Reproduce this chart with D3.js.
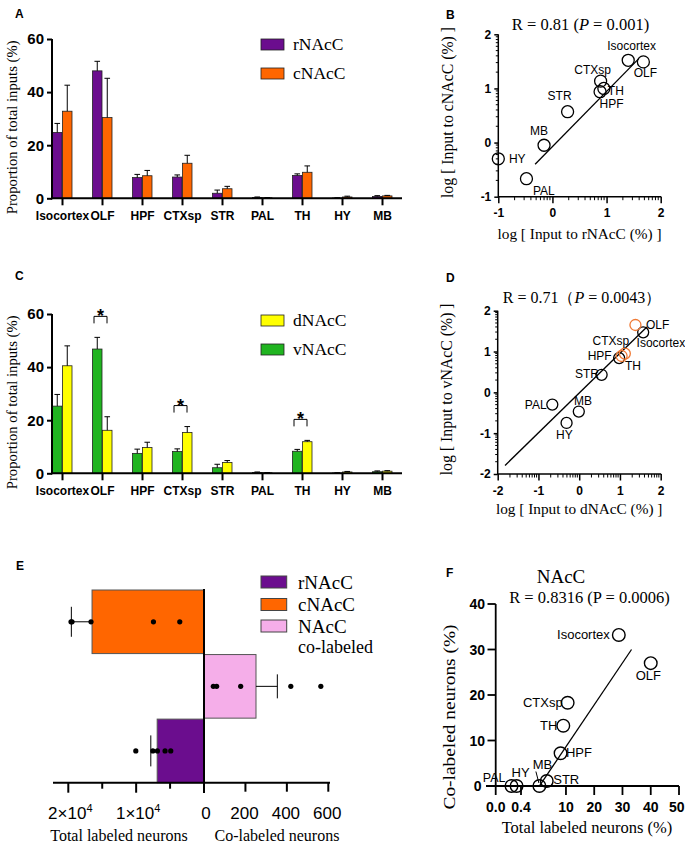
<!DOCTYPE html>
<html><head><meta charset="utf-8">
<script src="https://cdn.jsdelivr.net/npm/d3@7"></script>
<style>body{margin:0;background:#fff}svg{display:block}</style>
</head><body>
<script>
// ================= DATA =================
const regions = ["Isocortex","OLF","HPF","CTXsp","STR","PAL","TH","HY","MB"];
const barTicks = [0,20,40,60];

// Panel A (proportion of total inputs, %)
const rNAcC = [24.8, 48.0, 7.8, 8.0, 1.9, 0.3, 8.6, 0.1, 0.7];
const rNAcC_err = [3.4, 3.6, 1.2, 0.8, 1.2, 0.2, 0.6, 0.1, 0.3];
const cNAcC = [32.8, 30.4, 8.5, 13.2, 3.6, 0.2, 9.8, 0.5, 0.9];
const cNAcC_err = [9.8, 14.8, 2.0, 3.0, 0.9, 0.1, 2.4, 0.3, 0.2];

// Panel C
const vNAcC = [25.3, 46.8, 7.5, 8.2, 2.1, 0.3, 8.3, 0.1, 0.6];
const vNAcC_err = [4.4, 4.4, 1.6, 1.0, 1.3, 0.2, 0.7, 0.1, 0.3];
const dNAcC = [40.5, 16.2, 9.7, 15.4, 4.1, 0.2, 11.9, 0.5, 0.8];
const dNAcC_err = [7.5, 5.1, 2.0, 2.2, 0.7, 0.1, 0.5, 0.2, 0.2];
const sigRegions = ["OLF","CTXsp","TH"];

// Panel B (log10 values)
const logR = [1.40, 1.68, 0.88, 0.89, 0.28, -0.48, 0.95, -1.00, -0.155];
const logC = [1.52, 1.49, 0.94, 1.135, 0.57, -0.667, 1.00, -0.30, -0.05];
const fitB = [[-0.32,-0.40],[1.60,1.555]];
const logTicksB = [-1,0,1,2];

// Panel D (log10 values)
const logD = [1.57, 1.38, 0.98, 1.12, 0.55, -0.66, 1.04, -0.31, -0.01];
const logV = [1.47, 1.65, 0.84, 0.95, 0.43, -0.30, 0.89, -0.75, -0.47];
const sigD = [false, true, false, true, false, false, true, false, false];
const fitD = [[-1.82,-1.79],[1.66,1.60]];
const logTicksD = [-2,-1,0,1,2];

// Panel E
const eGroups = ["cNAcC","NAcC co-labeled","rNAcC"];
const totalMean = {cNAcC:16500, rNAcC:6900};
const totalErr = {cNAcC:3050, rNAcC:940};
const cNAcC_cells = [19600, 19450, 16650, 7450, 3570];
const rNAcC_cells = [10050, 7540, 6870, 5740, 4900];
const coMean = 251, coErr = 103;
const co_cells = [45, 61, 177, 419, 564];
const eTotalTicks = [20000, 10000, 0];
const eTotalMinor = [15000, 5000];
const eCoTicks = [200, 400, 600];

// Panel F (% of total)
const totalPct = [28.7, 40.0, 8.1, 10.6, 3.2, 0.25, 9.06, 0.33, 0.6];
const coPct = [33.2, 27.0, 7.2, 18.3, 1.1, 0, 13.25, 0, 0];
const fitF = [[0.46,-0.15],[33.2,30.0]];
const fYTicks = [0,10,20,30,40];
const fXTicks1 = [0, 0.4];
const fXTicks2 = [10,20,30,40,50];

// ================= STYLE / LAYOUT =================
const SERIF = "'Liberation Serif','Times New Roman',Times,serif";
const SANS = "'Liberation Sans',Arial,Helvetica,sans-serif";
const PURPLE="#6b0d8e", ORANGE="#ff6600", YELLOW="#ffff00", GREEN="#20b420", PINK="#f5aee9", SIGC="#f07a35";

const W=685,H=845;
const svg=d3.select("body").append("svg").attr("width",W).attr("height",H);
svg.append("rect").attr("width",W).attr("height",H).attr("fill","#fff");

function txt(g,x,y,s,o={}){
  const t=g.append("text").attr("x",x).attr("y",y).text(s)
    .attr("font-family",o.family||SANS).attr("font-size",o.size||12)
    .attr("font-weight",o.weight||"normal").attr("text-anchor",o.anchor||"start")
    .attr("fill",o.fill||"#000");
  if(o.rotate) t.attr("transform",`rotate(-90,${x},${y})`);
  if(o.len) t.attr("textLength",o.len).attr("lengthAdjust","spacingAndGlyphs");
  return t;
}
function line(g,x1,y1,x2,y2,w=1,c="#000"){
  return g.append("line").attr("x1",x1).attr("y1",y1).attr("x2",x2).attr("y2",y2).attr("stroke",c).attr("stroke-width",w);
}
function styleAxis(a,size,weight,w){
  a.select(".domain").remove();
  a.selectAll(".tick line").attr("stroke","#000").attr("stroke-width",w);
  a.selectAll(".tick text").attr("font-family",SANS).attr("font-size",size).attr("font-weight",weight).attr("fill","#000");
}

// panel letters
[["A",15,18],["B",446,19],["C",15,280],["D",446,282],["E",16,570],["F",446,577]]
  .forEach(([s,x,y])=>txt(svg,x,y,s,{weight:"bold",size:12}));

// ================= BAR PANELS (A, C) =================
function barPanel(o){
  const g=svg.append("g");
  const x=d3.scalePoint().domain(regions).range([62,382]);
  const y=d3.scaleLinear().domain([0,60]).range([o.zeroY,o.zeroY-159.3]);
  const bw=9.5;
  o.series.forEach((s,si)=>{
    const off = si===0 ? -bw : 0.5;
    g.selectAll(null).data(regions).enter().append("rect")
      .attr("x",d=>x(d)+off).attr("width",bw)
      .attr("y",(d,i)=>y(s.vals[i])).attr("height",(d,i)=>y(0)-y(s.vals[i]))
      .attr("fill",s.color).attr("stroke","#222").attr("stroke-width",0.8);
    regions.forEach((d,i)=>{
      const cx=x(d)+off+bw/2, t=y(s.vals[i]), e=y(s.vals[i]+s.errs[i]);
      line(g,cx,t,cx,e,1);
      line(g,cx-2.8,e,cx+2.8,e,1);
    });
  });
  // significance brackets
  (o.sig||[]).forEach(r=>{
    const i=regions.indexOf(r);
    const top=Math.min(...o.series.map(s=>y(s.vals[i]+s.errs[i])));
    const by=top-21, xc=x(r);
    g.append("path").attr("d",`M${xc-8},${by+7}V${by}H${xc+5}V${by+7}`)
      .attr("fill","none").attr("stroke","#000").attr("stroke-width",1);
    txt(g,xc-1.5,by+6,"*",{weight:"bold",size:18,anchor:"middle"});
  });
  // y axis
  const ya=g.append("g").attr("transform","translate(52,0)")
    .call(d3.axisLeft(y).tickValues(barTicks).tickSize(5).tickSizeOuter(0).tickPadding(3));
  styleAxis(ya,15,"bold",2);
  line(g,52,o.zeroY+1,52,y(60),2);
  // x axis
  const xa=g.append("g").attr("transform",`translate(0,${o.zeroY})`)
    .call(d3.axisBottom(x).tickSize(7).tickSizeOuter(0).tickPadding(6));
  styleAxis(xa,12,"bold",2);
  line(g,51,o.zeroY,402,o.zeroY,2);
  // y title
  txt(g,17,o.zeroY-71,"Proportion of total inputs (%)",{family:SERIF,size:14.7,anchor:"middle",rotate:true});
  // legend
  o.legend.forEach((l,k)=>{
    g.append("rect").attr("x",261).attr("y",o.legY+k*29).attr("width",23).attr("height",11)
      .attr("fill",l.color).attr("stroke","#222").attr("stroke-width",0.8);
    txt(g,293,o.legY+11+k*29,l.name,{family:SERIF,size:17.5});
  });
}
barPanel({zeroY:198.3,legY:39,
  series:[{vals:rNAcC,errs:rNAcC_err,color:PURPLE},{vals:cNAcC,errs:cNAcC_err,color:ORANGE}],
  legend:[{name:"rNAcC",color:PURPLE},{name:"cNAcC",color:ORANGE}]});
barPanel({zeroY:473.3,legY:315,sig:sigRegions,
  series:[{vals:vNAcC,errs:vNAcC_err,color:GREEN},{vals:dNAcC,errs:dNAcC_err,color:YELLOW}],
  legend:[{name:"dNAcC",color:YELLOW},{name:"vNAcC",color:GREEN}]});

// ================= LOG SCATTER PANELS (B, D) =================
function logPanel(o){
  const g=svg.append("g");
  const x=d3.scaleLinear().domain(o.xd).range(o.xr);
  const y=d3.scaleLinear().domain(o.yd).range(o.yr);
  const X0=o.xr[0], Y0=o.yr[0];
  // fit line
  line(g,x(o.fit[0][0]),y(o.fit[0][1]),x(o.fit[1][0]),y(o.fit[1][1]),1.3);
  // points
  g.selectAll(null).data(o.xs).enter().append("circle")
    .attr("cx",d=>x(d)).attr("cy",(d,i)=>y(o.ys[i])).attr("r",o.r)
    .attr("fill","none").attr("stroke",(d,i)=>o.sig&&o.sig[i]?SIGC:"#000").attr("stroke-width",1.3);
  // labels
  regions.forEach((r,i)=>{
    const L=o.labels[r];
    txt(g,x(o.xs[i])+L[0],y(o.ys[i])+L[1],r,{size:12,anchor:L[2]});
  });
  // axes
  const fmt=d=>String(d);
  const xa=g.append("g").attr("transform",`translate(0,${Y0})`)
    .call(d3.axisBottom(x).tickValues(o.ticks).tickSize(6.5).tickSizeOuter(0).tickPadding(5.5).tickFormat(fmt));
  styleAxis(xa,12,"bold",1.5);
  const ya=g.append("g").attr("transform",`translate(${X0},0)`)
    .call(d3.axisLeft(y).tickValues(o.ticks).tickSize(4).tickSizeOuter(0).tickPadding(3).tickFormat(fmt));
  styleAxis(ya,12,"bold",1.5);
  const minor=[];
  for(let n=o.ticks[0];n<o.ticks[o.ticks.length-1];n++) for(let k=2;k<=9;k++) minor.push(n+Math.log10(k));
  minor.forEach(v=>{ line(g,x(v),Y0,x(v),Y0+3.5,1); line(g,X0,y(v),X0-2.5,y(v),1); });
  line(g,X0,Y0,o.xr[1]+0.5,Y0,1.5);
  line(g,X0,Y0+0.7,X0,o.yr[1],1.5);
  // titles
  const tt=txt(g,o.titleX,o.titleY,"",{family:SERIF,size:o.titleSize,anchor:"middle"});
  o.title.forEach(p=>tt.append("tspan").text(p[0]).attr("font-style",p[1]?"italic":"normal"));
  txt(g,(o.xr[0]+o.xr[1])/2,o.xtY,o.xt,{family:SERIF,size:15.3,anchor:"middle"});
  txt(g,o.ytX,(o.yr[0]+o.yr[1])/2-3,o.yt,{family:SERIF,size:15.8,anchor:"middle",rotate:true});
}
logPanel({xd:[-1,2],xr:[498.3,660.7],yd:[-1,2],yr:[196.7,34.3],ticks:logTicksB,
  xs:logR,ys:logC,fit:fitB,r:6,
  labels:{Isocortex:[3.4,-10,"middle"],OLF:[2,15,"middle"],CTXsp:[-8,-7,"middle"],TH:[4,6.5,"start"],
    HPF:[-0.5,16,"start"],STR:[-8,-11.5,"middle"],MB:[-5,-10,"middle"],HY:[10.6,4.2,"start"],PAL:[6.5,16,"start"]},
  title:[["R = 0.81 (",0],["P",1],[" = 0.001)",0]],titleX:580.5,titleY:30,titleSize:16.5,
  xt:"log [ Input to rNAcC (%) ]",xtY:239,yt:"log [ Input to cNAcC (%) ]",ytX:453});
logPanel({xd:[-2,2],xr:[497.7,660.7],yd:[-2,2],yr:[474,310.7],ticks:logTicksD,
  xs:logD,ys:logV,sig:sigD,fit:fitD,r:5.5,
  labels:{Isocortex:[-6.6,15,"start"],OLF:[10.5,3.6,"start"],HPF:[-7.5,2,"end"],CTXsp:[4.4,-9,"end"],
    TH:[3.3,14.3,"start"],STR:[-2.7,3.1,"end"],PAL:[-5.7,4.1,"end"],MB:[-4.9,-6.9,"start"],HY:[-2.2,15.7,"middle"]},
  title:[["R = 0.71（",0],["P",1],[" = 0.0043）",0]],titleX:582,titleY:303,titleSize:16,
  xt:"log [ Input to dNAcC (%) ]",xtY:514,yt:"log [ Input to vNAcC (%) ]",ytX:452});

// ================= PANEL E =================
(function(){
  const g=svg.append("g");
  const xL=d3.scaleLinear().domain([0,20000]).range([204,68.3]);
  const xR=d3.scaleLinear().domain([0,600]).range([204,328.3]);
  const yb=d3.scaleBand().domain(eGroups).range([590,782.7]).paddingInner(0.015);
  const cy=k=>yb(k)+yb.bandwidth()/2;
  // bars
  g.append("rect").attr("x",xL(totalMean.cNAcC)).attr("y",yb("cNAcC")).attr("width",204-xL(totalMean.cNAcC))
    .attr("height",yb.bandwidth()).attr("fill",ORANGE).attr("stroke","#555").attr("stroke-width",1);
  g.append("rect").attr("x",204).attr("y",yb("NAcC co-labeled")).attr("width",xR(coMean)-204)
    .attr("height",yb.bandwidth()).attr("fill",PINK).attr("stroke","#555").attr("stroke-width",1);
  g.append("rect").attr("x",xL(totalMean.rNAcC)).attr("y",yb("rNAcC")).attr("width",204-xL(totalMean.rNAcC))
    .attr("height",yb.bandwidth()).attr("fill",PURPLE).attr("stroke","#555").attr("stroke-width",1);
  // error bars
  const eb=(x1,x2,yc,h)=>{line(g,x1,yc,x2,yc,1);line(g,x2,yc-h,x2,yc+h,1);};
  eb(xL(totalMean.cNAcC),xL(totalMean.cNAcC+totalErr.cNAcC),cy("cNAcC"),15);
  eb(xR(coMean),xR(coMean+coErr),cy("NAcC co-labeled"),12);
  eb(xL(totalMean.rNAcC),xL(totalMean.rNAcC+totalErr.rNAcC),cy("rNAcC"),15.5);
  // dots
  const dots=(arr,sc,k)=>g.selectAll(null).data(arr).enter().append("circle")
    .attr("cx",d=>sc(d)).attr("cy",cy(k)).attr("r",2.6).attr("fill","#000");
  dots(cNAcC_cells,xL,"cNAcC"); dots(co_cells,xR,"NAcC co-labeled"); dots(rNAcC_cells,xL,"rNAcC");
  // zero line
  line(g,204,589,204,793,2);
  // bottom axis
  const AY=782.7;
  line(g,53,AY,330,AY,2);
  eTotalTicks.forEach(v=>line(g,xL(v),AY,xL(v),AY+10,2));
  eTotalMinor.forEach(v=>line(g,xL(v),AY,xL(v),AY+6,2));
  eCoTicks.forEach(v=>line(g,xR(v),AY,xR(v),AY+9,2));
  eTotalTicks.filter(v=>v>0).forEach(v=>{
    const t=txt(g,xL(v)+2,819,"",{size:17,anchor:"middle"});
    t.append("tspan").text(`${v/10000}×10`);
    t.append("tspan").text("4").attr("font-size",11).attr("dy",-7);
  });
  txt(g,206,819,"0",{size:17,anchor:"middle"});
  eCoTicks.forEach(v=>txt(g,xR(v)-1,819,String(v),{size:17,anchor:"middle"}));
  txt(g,119,841,"Total labeled neurons",{family:SERIF,size:16,anchor:"middle"});
  txt(g,277,841,"Co-labeled neurons",{family:SERIF,size:16,anchor:"middle"});
  // legend
  const leg=[["rNAcC",PURPLE,576],["cNAcC",ORANGE,598.5],["NAcC",PINK,620]];
  leg.forEach(([n,c,yy])=>{
    g.append("rect").attr("x",261).attr("y",yy).attr("width",25.7).attr("height",12)
      .attr("fill",c).attr("stroke","#444").attr("stroke-width",1);
    txt(g,298,yy+12.5,n,{family:SERIF,size:19});
  });
  txt(g,298,652.5,"co-labeled",{family:SERIF,size:18});
})();

// ================= PANEL F =================
(function(){
  const g=svg.append("g");
  const fx1=d3.scaleLinear().domain([0,0.4]).range([495.7,521]);
  const fx2=d3.scaleLinear().domain([0,50]).range([537.7,679]);
  const fx=v=>v<0.5?fx1(v):fx2(v);
  const fy=d3.scaleLinear().domain([0,40]).range([786,604]);
  // fit
  line(g,fx2(fitF[0][0]),fy(fitF[0][1]),fx2(fitF[1][0]),fy(fitF[1][1]),1.3);
  // axes
  line(g,486,786,679,786,1.8);
  line(g,495.7,787,495.7,604,1.8);
  fYTicks.filter(v=>v>0).forEach(v=>line(g,487.5,fy(v),495.7,fy(v),1.8));
  fYTicks.forEach(v=>txt(g,v===0?481.5:485,fy(v)+5,String(v),{size:14,weight:"bold",anchor:"end"}));
  fXTicks1.forEach(v=>{line(g,fx1(v),786,fx1(v),795,1.8); txt(g,fx1(v),811.7,v.toFixed(1),{size:14,weight:"bold",anchor:"middle"});});
  fXTicks2.forEach(v=>{line(g,fx2(v),786,fx2(v),795,1.8);
    txt(g,v===50?684.5:fx2(v),811.7,String(v),{size:14,weight:"bold",anchor:v===50?"end":"middle"});});
  // points
  g.selectAll(null).data(totalPct).enter().append("circle")
    .attr("cx",d=>fx(d)).attr("cy",(d,i)=>fy(coPct[i])).attr("r",6.3)
    .attr("fill","none").attr("stroke","#000").attr("stroke-width",1.4);
  const labs={Isocortex:[-9,4.3,"end"],OLF:[-2.4,16.8,"middle"],HPF:[5.4,3.5,"start"],CTXsp:[-5,4.6,"end"],
    STR:[6.5,3.3,"start"],PAL:[-28.7,-3.7,"start"],TH:[-6,4.3,"end"],HY:[-5,-9.3,"start"],MB:[-6.7,-17.3,"start"]};
  regions.forEach((r,i)=>{const L=labs[r]; txt(g,fx(totalPct[i])+L[0],fy(coPct[i])+L[1],r,{size:r==="PAL"?12.5:13,anchor:L[2]});});
  const mi=regions.indexOf("MB");
  line(g,fx(totalPct[mi])-3.5,fy(0)-14.5,fx(totalPct[mi])-0.5,fy(0)-3,1);
  // titles
  txt(g,561,583,"NAcC",{family:SERIF,size:19,anchor:"middle"});
  txt(g,589.5,603,"R = 0.8316 (P = 0.0006)",{family:SERIF,size:16.5,anchor:"middle"});
  txt(g,587,833,"Total labeled neurons (%)",{family:SERIF,size:16.5,anchor:"middle"});
  txt(g,455,717,"Co-labeled neurons (%)",{family:SERIF,size:16.5,anchor:"middle",rotate:true,len:185});
})();
</script></body></html>
